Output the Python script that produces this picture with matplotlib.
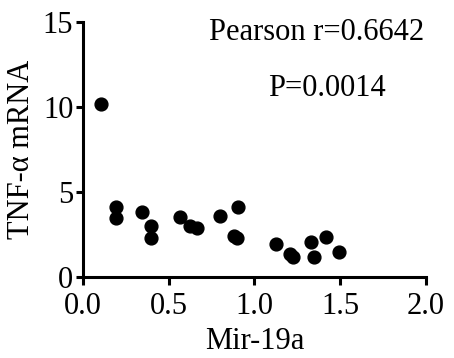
import matplotlib.pyplot as plt

plt.rcParams['font.family'] = ['Liberation Serif', 'DejaVu Serif']

mir19a = [0.107, 0.19, 0.19, 0.346, 0.395, 0.395, 0.564, 0.626, 0.665, 0.80,
          0.905, 0.879, 0.899, 1.125, 1.206, 1.226, 1.327, 1.35, 1.418, 1.494]
tnf = [10.15, 4.12, 3.49, 3.80, 3.02, 2.29, 3.53, 2.98, 2.88, 3.57,
       4.12, 2.43, 2.27, 1.92, 1.33, 1.18, 2.08, 1.18, 2.33, 1.47]
x_ticks = [0.0, 0.5, 1.0, 1.5, 2.0]
y_ticks = [0, 5, 10, 15]

fig = plt.figure(figsize=(4.54, 3.58), dpi=100)
ax = fig.add_axes([0.183, 0.226, 0.755, 0.713])

ax.scatter(mir19a, tnf, s=85, c='black', marker='o', clip_on=False, zorder=3)

ax.set_xlim(0, 2)
ax.set_ylim(0, 15)
ax.set_xticks(x_ticks)
ax.set_xticklabels(['0.0', '0.5', '1.0', '1.5', '2.0'])
ax.set_yticks(y_ticks)

for side in ['top', 'right']:
    ax.spines[side].set_visible(False)
for side in ['left', 'bottom']:
    ax.spines[side].set_linewidth(2.2)
ax.tick_params(width=2.2, labelsize=22)
ax.tick_params(axis='x', length=6, pad=5)
ax.tick_params(axis='y', length=5, pad=2)

ax.set_xlabel('Mir-19a', fontsize=22, labelpad=4)
ax.set_ylabel('TNF-α mRNA', fontsize=22, labelpad=5)

ax.text(1.36, 14.35, 'Pearson r=0.6642', fontsize=22, ha='center', va='center')
ax.text(1.42, 11.1, 'P=0.0014', fontsize=22, ha='center', va='center')

fig.savefig('out.png', dpi=100)
